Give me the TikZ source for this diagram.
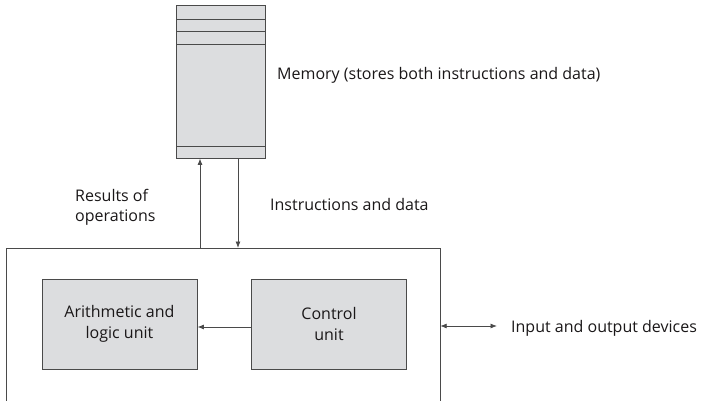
\documentclass[tikz,border=0pt]{standalone}
\usepackage{fontspec}
\setmainfont{Open Sans}
\usetikzlibrary{arrows.meta}
\definecolor{boxfill}{HTML}{DCDDDF}
\definecolor{linec}{HTML}{4A4A4A}
\definecolor{textc}{HTML}{1A1718}
\tikzset{
  unitbox/.style={draw=linec, fill=boxfill, line width=0.9pt, minimum width=155pt, minimum height=90pt, inner sep=0pt, align=center, font=\fontsize{16}{20.5}\selectfont, text=textc},
  conn/.style={draw=linec, line width=0.8pt, -{Latex[length=6.5pt,width=5pt]}},
  lbl/.style={font=\fontsize{16}{20}\selectfont, text=textc, inner sep=0pt},
}
\begin{document}
\begin{tikzpicture}[x=1pt,y=-1pt]
\useasboundingbox (0,0) rectangle (703,400);
% memory
\node[draw=linec, fill=boxfill, line width=0.9pt, minimum width=89pt, minimum height=153pt, inner sep=0pt] (mem) at (220.5,81.5) {};
\draw[linec, line width=0.9pt] (176,19) -- (265,19) (176,31.5) -- (265,31.5) (176,44) -- (265,44) (176,146) -- (265,146);
% outer CPU box
\coordinate (cpuTL) at (6,248);
\draw[linec, line width=0.9pt] (6,402) -- (cpuTL) -- (440,248) -- (440,402);
\node[inner sep=0pt, minimum size=0pt] (cpuR) at (440,326) {};
% units
\node[unitbox] (alu) at (119.5,324) {Arithmetic and\\logic unit};
\node[unitbox] (cu) at (329,324) {Control\\unit};
\draw[conn] (cu.west |- 0,327) -- (alu.east |- 0,327);
% memory arrows
\coordinate (upS) at (200,248);
\coordinate (dnE) at (238,248);
\draw[conn] (upS) -- (mem.south -| upS);
\draw[conn] (mem.south -| dnE) -- (dnE);
% IO
\coordinate (io) at (497,326);
\draw[conn, {Latex[length=6.5pt,width=5pt]}-{Latex[length=6.5pt,width=5pt]}] (cpuR) -- (io);
% labels
\node[lbl, anchor=west] (iol) at (511,328) {Input and output devices};
\node[lbl, anchor=west] (meml) at (277,75) {Memory (stores both instructions and data)};
\node[lbl, anchor=west] (idl) at (270,204) {Instructions and data};
\node[lbl, anchor=west, align=left] (rol) at (75,207) {Results of\\operations};
\end{tikzpicture}
\end{document}
